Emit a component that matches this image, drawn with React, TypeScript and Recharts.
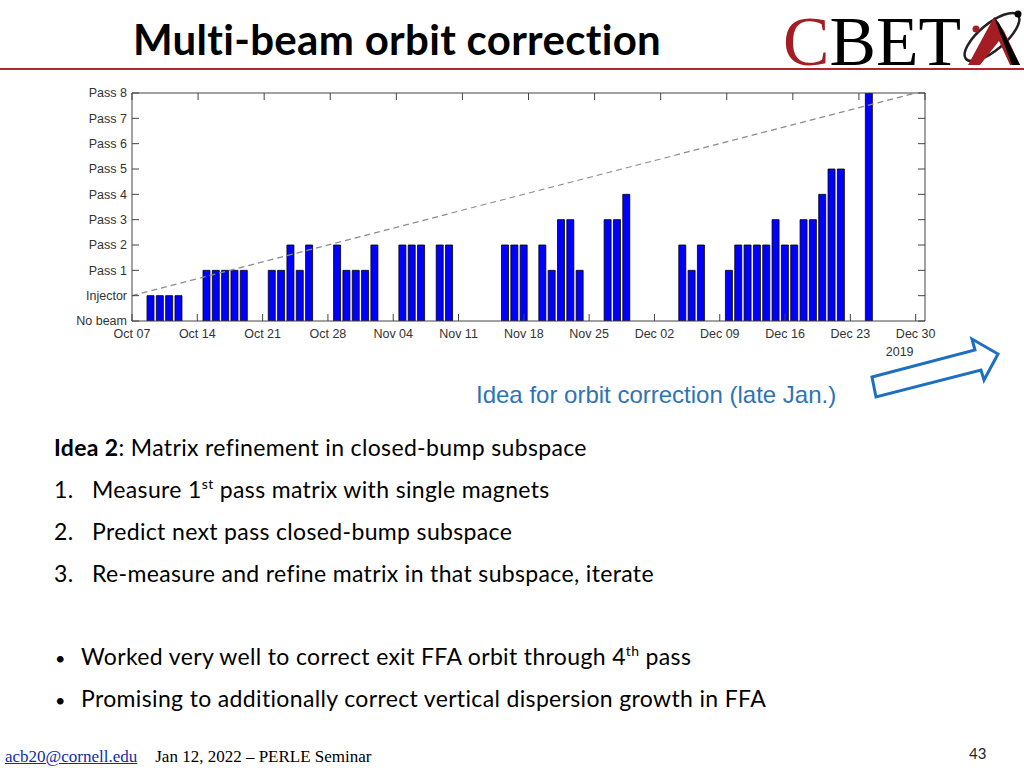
import React from 'react';
import { ComposedChart, Bar, Line, XAxis, YAxis } from 'recharts';

// highest level reached each day, from Oct 07 2019 (0 = no beam, 1 = injector, 2 = pass 1, ...)
const dayLevels: (number | null)[] = [
  null, null, 1, 1, 1, 1, 0, // Oct 07 - 13
  0, 2, 2, 2, 2, 2, 0, // Oct 14 - 20
  0, 2, 2, 3, 2, 3, 0, // Oct 21 - 27
  0, 3, 2, 2, 2, 3, 0, // Oct 28 - Nov 03
  0, 3, 3, 3, 0, 3, 3, // Nov 04 - 10
  0, 0, 0, 0, 0, 3, 3, // Nov 11 - 17
  3, 0, 3, 2, 4, 4, 2, // Nov 18 - 24
  0, 0, 4, 4, 5, 0, 0, // Nov 25 - Dec 01
  0, 0, 0, 3, 2, 3, 0, // Dec 02 - 08
  0, 2, 3, 3, 3, 3, 4, // Dec 09 - 15
  3, 3, 4, 4, 5, 6, 6, // Dec 16 - 22
  0, 0, 9, // Dec 23 - 25
];

const levelLabels = ['No beam', 'Injector', 'Pass 1', 'Pass 2', 'Pass 3', 'Pass 4', 'Pass 5', 'Pass 6', 'Pass 7', 'Pass 8'];
const levelTicks = [0, 1, 2, 3, 4, 5, 6, 7, 8, 9];

const dateTicks = [0, 7, 14, 21, 28, 35, 42, 49, 56, 63, 70, 77, 84];
const dateLabels = ['Oct 07', 'Oct 14', 'Oct 21', 'Oct 28', 'Nov 04', 'Nov 11', 'Nov 18', 'Nov 25', 'Dec 02', 'Dec 09', 'Dec 16', 'Dec 23', 'Dec 30'];
const yearLabel = '2019';

// dashed guide line: start and end (day, level)
const trendDays = [0, 84];
const trendLevels = [1, 9];

const lastDay = 84;

const chartData = Array.from({ length: lastDay + 1 }, (_, day) => {
  const t = trendDays.indexOf(day);
  return {
    day,
    level: day < dayLevels.length ? dayLevels[day] : null,
    trend: t >= 0 ? trendLevels[t] : null,
  };
});

const axisColor = '#444';
const tickFont = { fontFamily: '"Liberation Sans", Arial, sans-serif', fontSize: 12.5, fill: '#333' };

const DateTick = ({ x, y, payload }: any) => {
  const i = dateTicks.indexOf(payload.value);
  return (
    <g>
      <text x={x} y={y} dy={17} textAnchor="middle" {...tickFont}>
        {dateLabels[i]}
      </text>
      {i === dateLabels.length - 1 && (
        <text x={x - 16} y={y} dy={35} textAnchor="middle" {...tickFont}>
          {yearLabel}
        </text>
      )}
    </g>
  );
};

const body = '"Lato", "Open Sans", sans-serif';

function PassChart() {
  return (
    <ComposedChart
      width={897}
      height={276}
      data={chartData}
      margin={{ top: 0, right: 30, bottom: 0, left: 0 }}
    >
      <XAxis
        dataKey="day"
        type="number"
        domain={[0, 85]}
        ticks={dateTicks}
        height={40}
        tickSize={-7}
        tickMargin={7}
        stroke={axisColor}
        tick={<DateTick />}
        allowDataOverflow
      />
      <XAxis
        xAxisId="top"
        orientation="top"
        type="number"
        domain={[0, 85]}
        ticks={dateTicks}
        height={8}
        tickSize={-7}
        tickFormatter={() => ''}
        stroke={axisColor}
        allowDataOverflow
      />
      <YAxis
        type="number"
        domain={[0, 9]}
        ticks={levelTicks}
        width={72}
        tickSize={-7}
        tickMargin={12}
        stroke={axisColor}
        tick={tickFont}
        tickFormatter={(v: number) => levelLabels[v]}
        interval={0}
        allowDataOverflow
      />
      <YAxis
        yAxisId="right"
        orientation="right"
        type="number"
        domain={[0, 9]}
        ticks={levelTicks}
        width={2}
        tickSize={-7}
        tickFormatter={() => ''}
        stroke={axisColor}
        allowDataOverflow
      />
      <Bar
        dataKey="level"
        barSize={7}
        fill="#0000ff"
        stroke="#000"
        strokeWidth={0.8}
        isAnimationActive={false}
      />
      <Line
        dataKey="trend"
        stroke="#8c8c8c"
        strokeWidth={1.2}
        strokeDasharray="6 4"
        dot={false}
        connectNulls
        isAnimationActive={false}
      />
    </ComposedChart>
  );
}

export default function App() {
  const line = (top: number, content: React.ReactNode, left = 54) => (
    <div style={{ position: 'absolute', left, top, fontFamily: body, fontSize: 23, letterSpacing: 0.35, lineHeight: '28px', color: '#000', whiteSpace: 'nowrap' }}>
      {content}
    </div>
  );
  const sup = { fontSize: 14, verticalAlign: 'super' as const, lineHeight: 0 };

  return (
    <div style={{ position: 'absolute', left: 0, top: 0, width: 1024, height: 768, background: '#fff', overflow: 'hidden' }}>
      <div style={{ position: 'absolute', left: 133, top: 14, fontFamily: body, fontWeight: 700, fontSize: 42, letterSpacing: 0.3, lineHeight: '50px', color: '#000', whiteSpace: 'nowrap' }}>
        Multi-beam orbit correction
      </div>
      <div style={{ position: 'absolute', left: 0, top: 68, width: 1024, height: 2, background: '#b3262b' }} />

      <svg style={{ position: 'absolute', left: 780, top: 0 }} width={244} height={86}>
        <text x={3} y={65} textLength={178} lengthAdjust="spacingAndGlyphs" fontFamily='"Liberation Serif", serif' fontSize={70}>
          <tspan fill="#a51d24">C</tspan>
          <tspan fill="#000">BET</tspan>
        </text>
        <ellipse cx={212} cy={37} rx={34} ry={13} transform="rotate(-40 212 37)" fill="none" stroke="#222" strokeWidth={2.5} />
        <path d="M188,65 L214,17 L224,31 L240,65 L230,65 L219,41 L200,65 Z" fill="#a51d24" />
        <path d="M214,17 L232,65 L240,65 L219,23 Z" fill="#000" />
        <circle cx={196} cy={29} r={3.5} fill="#a51d24" />
        <circle cx={238} cy={14} r={3.5} fill="#000" />
      </svg>

      <div style={{ position: 'absolute', left: 60, top: 85 }}>
        <PassChart />
      </div>

      <svg style={{ position: 'absolute', left: 860, top: 330 }} width={150} height={80}>
        <polygon
          points="12,47 115,20 112,9 138,24 124,50 121,40 16,67"
          fill="#fff"
          stroke="#1f6fc0"
          strokeWidth={3}
          strokeLinejoin="miter"
        />
      </svg>

      <div style={{ position: 'absolute', left: 476, top: 381, fontFamily: '"Liberation Sans", Arial, sans-serif', fontSize: 24, lineHeight: '28px', color: '#2e74b5', whiteSpace: 'nowrap' }}>
        Idea for orbit correction (late Jan.)
      </div>

      {line(433, <><b>Idea 2</b>: Matrix refinement in closed-bump subspace</>)}
      {line(475, <><span style={{ display: 'inline-block', width: 38 }}>1.</span>Measure 1<span style={sup}>st</span> pass matrix with single magnets</>)}
      {line(517, <><span style={{ display: 'inline-block', width: 38 }}>2.</span>Predict next pass closed-bump subspace</>)}
      {line(559, <><span style={{ display: 'inline-block', width: 38 }}>3.</span>Re-measure and refine matrix in that subspace, iterate</>)}
      {line(642, <><span style={{ display: 'inline-block', width: 26, fontSize: 18 }}>•</span>Worked very well to correct exit FFA orbit through 4<span style={sup}>th</span> pass</>, 55)}
      {line(684, <><span style={{ display: 'inline-block', width: 26, fontSize: 18 }}>•</span>Promising to additionally correct vertical dispersion growth in FFA</>, 55)}

      <div style={{ position: 'absolute', left: 5, top: 747, fontFamily: '"Liberation Serif", serif', fontSize: 17, lineHeight: '20px', whiteSpace: 'nowrap' }}>
        <span style={{ color: '#0b2fa8', textDecoration: 'underline' }}>acb20@cornell.edu</span>
        <span style={{ marginLeft: 18, color: '#000' }}>Jan 12, 2022 – PERLE Seminar</span>
      </div>
      <div style={{ position: 'absolute', left: 969, top: 744, fontFamily: body, fontSize: 15, lineHeight: '18px', color: '#222' }}>43</div>
    </div>
  );
}
